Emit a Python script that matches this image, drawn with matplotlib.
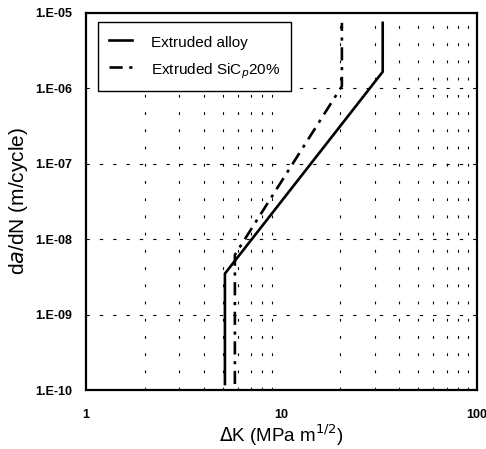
import matplotlib
matplotlib.use("Agg")
import matplotlib.pyplot as plt
from matplotlib.ticker import FixedLocator, FixedFormatter, NullFormatter

plt.rcParams['font.family'] = ['Liberation Sans', 'DejaVu Sans']

# Data
alloy_dk = [5.14, 5.14, 33.0, 33.0]
alloy_rate = [1.2e-10, 3.5e-9, 1.66e-6, 7.4e-6]
sic_dk = [5.78, 5.78, 20.4, 20.4]
sic_rate = [1.2e-10, 6.2e-9, 1.07e-6, 7.4e-6]

x_ticks = [1, 10, 100]
x_labels = ["1", "10", "100"]
y_ticks = [1e-10, 1e-9, 1e-8, 1e-7, 1e-6, 1e-5]
y_labels = ["1.E-10", "1.E-09", "1.E-08", "1.E-07", "1.E-06", "1.E-05"]

fig = plt.figure(figsize=(4.86, 4.49), dpi=100)
ax = fig.add_axes([0.177, 0.1314, 0.804, 0.8397])

ax.set_xscale('log')
ax.set_yscale('log')
ax.set_xlim(1, 100)
ax.set_ylim(1e-10, 1e-5)

ax.plot(alloy_dk, alloy_rate, color='black', lw=1.9, ls='-', label='Extruded alloy', zorder=3)
ax.plot(sic_dk, sic_rate, color='black', lw=1.9, ls=(0, (5, 2.5, 1.2, 2.5)),
        label='Extruded SiC$_p$20%', zorder=3)

ax.xaxis.set_major_locator(FixedLocator(x_ticks))
ax.xaxis.set_major_formatter(FixedFormatter(x_labels))
minor_x = [m * d for d in (1, 10) for m in range(2, 10)] + [10]
ax.xaxis.set_minor_locator(FixedLocator(minor_x))
ax.xaxis.set_minor_formatter(NullFormatter())
ax.yaxis.set_major_locator(FixedLocator(y_ticks))
ax.yaxis.set_major_formatter(FixedFormatter(y_labels))
ax.yaxis.set_minor_locator(FixedLocator([]))

ax.grid(True, which='major', axis='y', color='black', lw=0.8, ls=(0, (3, 9)))
ax.grid(True, which='minor', axis='x', color='black', lw=0.8, ls=(0, (2.5, 13)))

for lab in ax.get_xticklabels() + ax.get_yticklabels():
    lab.set_fontweight('bold')
    lab.set_fontsize(9)
ax.tick_params(axis='both', which='both', length=0)
ax.tick_params(axis='y', pad=10)
ax.tick_params(axis='x', pad=14)

for s in ax.spines.values():
    s.set_linewidth(1.6)
    s.set_color('black')

ax.set_xlabel(r'$\Delta$K (MPa m$^{1/2}$)', fontsize=13.5, labelpad=1)
ax.set_ylabel(r'd$\it{a}$/dN (m/cycle)', fontsize=15, labelpad=4)

leg = ax.legend(loc='upper left', bbox_to_anchor=(0.031, 0.976), fontsize=11,
                frameon=True, fancybox=False, edgecolor='black', framealpha=1,
                handlelength=1.5, handletextpad=1.25, labelspacing=0.65,
                handleheight=1.39, borderpad=0.7, borderaxespad=0)
leg.get_frame().set_linewidth(1.0)

fig.savefig('out.png', dpi=100)
